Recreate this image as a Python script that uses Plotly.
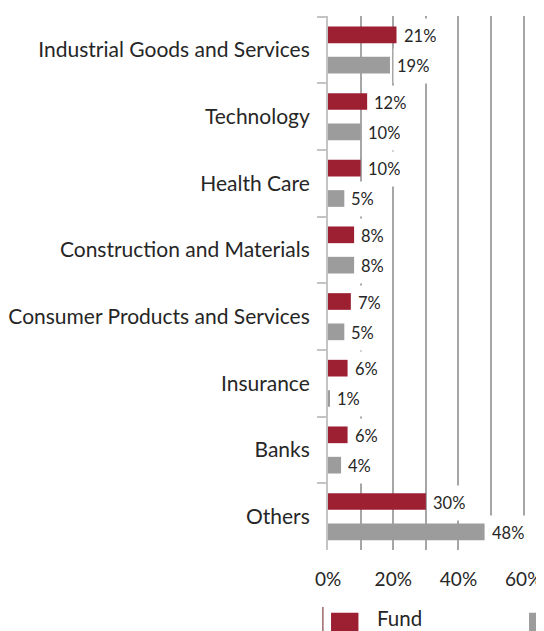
import plotly.graph_objects as go

categories = ["Industrial Goods and Services", "Technology", "Health Care",
              "Construction and Materials", "Consumer Products and Services",
              "Insurance", "Banks", "Others"]
fund = [21, 12, 10, 8, 7, 6, 6, 30]
benchmark = [19, 10, 5, 8, 5, 0.6, 4, 48]
x_tickvals = [0, 10, 20, 30, 40, 50, 60]
x_ticktext = ["0%", "", "20%", "", "40%", "", "60%"]

RED = "#9D1F32"
GRAY = "#9C9C9C"
TXT = "#262626"
FONT = "Lato"

fig = go.Figure()
fig.add_trace(go.Bar(y=categories, x=fund, orientation="h", name="Fund",
                     marker=dict(color=RED, line=dict(width=0)), showlegend=False))
fig.add_trace(go.Bar(y=categories, x=benchmark, orientation="h", name="Benchmark",
                     marker=dict(color=GRAY, line=dict(width=0)), showlegend=False))

annotations = []
for series, shift in ((fund, 14), (benchmark, -16)):
    for c, v in zip(categories, series):
        annotations.append(dict(
            x=v, y=c, xref="x", yref="y", text=f"{v:.0f}%", showarrow=False,
            xanchor="left", yanchor="middle", xshift=3, yshift=shift,
            bgcolor="white", borderpad=3, height=28,
            font=dict(family=FONT, size=16.5, color=TXT)))

# manual legend
annotations.append(dict(x=0.235, y=-0.128, xref="paper", yref="paper", text="Fund",
                        showarrow=False, xanchor="left", yanchor="middle",
                        font=dict(family=FONT, size=20.5, color=TXT)))
shapes = [
    dict(type="rect", xref="paper", yref="paper", x0=0.0153, x1=0.153, y0=-0.1175, y1=-0.3,
         fillcolor=RED, line=dict(width=0)),
    dict(type="rect", xref="paper", yref="paper", x0=1.0102, x1=1.3, y0=-0.1175, y1=-0.3,
         fillcolor=GRAY, line=dict(width=0)),
    dict(type="line", xref="paper", yref="paper", x0=-0.0255, x1=-0.0255, y0=-0.1067, y1=-0.3,
         line=dict(color="#6b1a24", width=1)),
]

fig.update_layout(
    width=536, height=623,
    margin=dict(l=320, r=17, t=8, b=81, autoexpand=False),
    paper_bgcolor="white", plot_bgcolor="white",
    barmode="group", bargap=0.09, bargroupgap=0.45,
    font=dict(family=FONT, size=18, color=TXT),
    annotations=annotations, shapes=shapes,
    xaxis=dict(range=[0, 61], tickvals=x_tickvals, ticktext=x_ticktext,
               showgrid=True, gridcolor="#A6A6A6", gridwidth=2, zeroline=False,
               showline=False, ticks="", ticklabelstandoff=16, automargin=False,
               tickfont=dict(family=FONT, size=19, color=TXT)),
    yaxis=dict(autorange="reversed", showline=True, linecolor="#C4C4C4", linewidth=2,
               ticks="outside", tickson="boundaries", ticklen=9, tickcolor="#C4C4C4",
               tickwidth=2, ticklabelstandoff=12, showgrid=False, automargin=False,
               tickfont=dict(family=FONT, size=21, color=TXT)),
)

fig.write_html("out.html")
